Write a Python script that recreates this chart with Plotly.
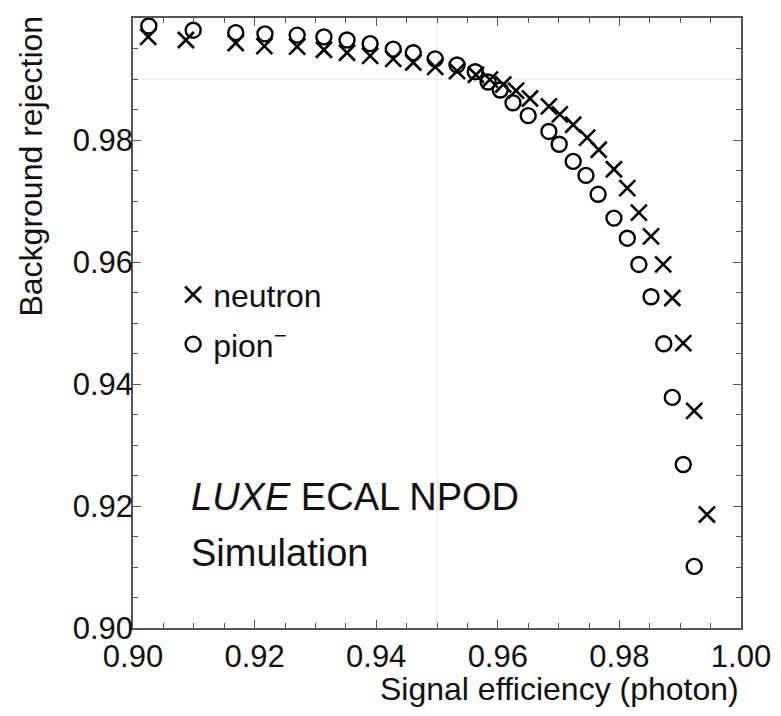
import plotly.graph_objects as go

# Signal efficiency (photon) / background rejection
neutron_eff = [0.9025, 0.9087, 0.9169, 0.9216, 0.9270, 0.9314, 0.9352, 0.9390, 0.9428,
               0.9461, 0.9497, 0.9533, 0.9564, 0.9587, 0.9609, 0.9630, 0.9653, 0.9684,
               0.9702, 0.9724, 0.9747, 0.9766, 0.9791, 0.9813, 0.9832, 0.9852, 0.9872,
               0.9887, 0.9905, 0.9923, 0.9944]
neutron_rej = [0.9969, 0.9964, 0.9959, 0.9954, 0.9953, 0.9948, 0.9943, 0.9938, 0.9933,
               0.9927, 0.9920, 0.9913, 0.9907, 0.9899, 0.9891, 0.9881, 0.9868, 0.9855,
               0.9842, 0.9825, 0.9804, 0.9784, 0.9752, 0.9721, 0.9681, 0.9642, 0.9596,
               0.9541, 0.9467, 0.9356, 0.9186]

pion_eff = [0.9026, 0.9099, 0.9169, 0.9217, 0.9270, 0.9314, 0.9352, 0.9390, 0.9428,
            0.9461, 0.9497, 0.9533, 0.9563, 0.9584, 0.9604, 0.9625, 0.9650, 0.9684,
            0.9701, 0.9724, 0.9745, 0.9765, 0.9791, 0.9813, 0.9832, 0.9852, 0.9873,
            0.9887, 0.9905, 0.9923]
pion_rej = [0.9987, 0.9980, 0.9976, 0.9974, 0.9972, 0.9969, 0.9964, 0.9958, 0.9949,
            0.9943, 0.9933, 0.9923, 0.9912, 0.9895, 0.9882, 0.9861, 0.9840, 0.9814,
            0.9793, 0.9765, 0.9742, 0.9711, 0.9672, 0.9639, 0.9596, 0.9543, 0.9466,
            0.9378, 0.9268, 0.9101]

x_ticks = [0.90, 0.92, 0.94, 0.96, 0.98, 1.00]
y_ticks = [0.90, 0.92, 0.94, 0.96, 0.98, 1.00]
x_tick_labels = ["0.90", "0.92", "0.94", "0.96", "0.98", "1.00"]
y_tick_labels = ["0.90", "0.92", "0.94", "0.96", "0.98", "1.00"]
ref_eff = 0.95
ref_rej = 0.99

FONT = "Liberation Sans, Arial, sans-serif"
AXIS_COLOR = "#555555"

fig = go.Figure()
fig.add_trace(go.Scatter(
    x=neutron_eff, y=neutron_rej, mode="markers", name="neutron", legendgroup="n",
    marker=dict(symbol="x-thin", size=16, color="black",
                line=dict(color="black", width=2.6)),
))
fig.add_trace(go.Scatter(
    x=pion_eff, y=pion_rej, mode="markers", name="pion<sup>\u2212</sup>", legendgroup="p",
    marker=dict(symbol="circle-open", size=15, color="black",
                line=dict(color="black", width=2.4)),
))

fig.add_vline(x=ref_eff, line=dict(color="#e4e4e4", width=1), layer="below")
fig.add_hline(y=ref_rej, line=dict(color="#e4e4e4", width=1), layer="below")

axis_common = dict(
    showgrid=False, zeroline=False, showline=True, linecolor=AXIS_COLOR, linewidth=1.5,
    mirror="ticks", ticks="inside", ticklen=8, tickwidth=1.3, tickcolor=AXIS_COLOR,
    tickfont=dict(family=FONT, size=31, color="#111111"),
    minor=dict(ticks="inside", dtick=0.005, ticklen=5, tickwidth=1.2, tickcolor=AXIS_COLOR),
)

fig.update_xaxes(range=[0.90, 1.00], tickvals=x_ticks, ticktext=x_tick_labels, **axis_common)
fig.update_yaxes(range=[0.90, 1.00], tickvals=y_ticks, ticktext=y_tick_labels,
                 ticklabelstandoff=-8, **axis_common)

fig.add_annotation(text="Signal efficiency (photon)", xref="paper", yref="paper",
                   x=1.0, y=-0.0997, xanchor="right", yanchor="middle", showarrow=False,
                   font=dict(family=FONT, size=32, color="#111111"))
fig.add_annotation(text="Background rejection", xref="paper", yref="paper",
                   x=-0.135, y=1.008, xanchor="right", yanchor="top", textangle=-90,
                   showarrow=False, font=dict(family=FONT, size=32, color="#111111"))
fig.add_annotation(text="<i>LUXE</i> ECAL NPOD", xref="paper", yref="paper",
                   x=0.092, y=0.215, xanchor="left", yanchor="middle", showarrow=False,
                   font=dict(family=FONT, size=38, color="#111111"))
fig.add_annotation(text="Simulation", xref="paper", yref="paper",
                   x=0.092, y=0.123, xanchor="left", yanchor="middle", showarrow=False,
                   font=dict(family=FONT, size=38, color="#111111"))

fig.update_layout(
    width=773, height=708,
    margin=dict(l=125, r=40, t=8, b=88),
    plot_bgcolor="white", paper_bgcolor="white",
    showlegend=True,
    legend=dict(x=0.066, y=0.5915, xanchor="left", yanchor="top",
                bgcolor="rgba(0,0,0,0)", tracegroupgap=5,
                font=dict(family=FONT, size=32, color="#111111")),
)

fig.write_html("out.html")
